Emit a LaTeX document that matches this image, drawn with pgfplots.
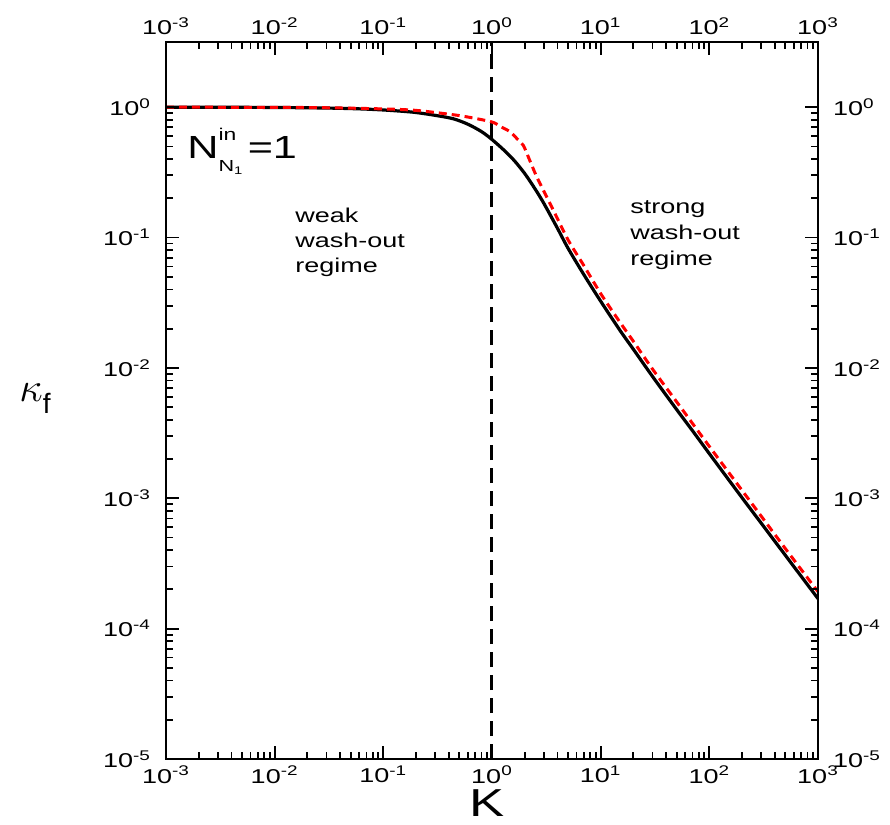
\documentclass[border=0pt]{standalone}
\usepackage{graphicx}
\usepackage{fontspec}
\setmainfont{Liberation Sans}[FakeStretch=1.35]
\newfontfamily\plainsans{Liberation Sans}
\usepackage{pgfplots}
\pgfplotsset{compat=1.18}
\usetikzlibrary{calc}

\pgfplotsset{
    width=326pt, height=358.5pt, scale only axis,
    xmin=1e-3, xmax=1e3, ymin=1e-5, ymax=3.1623,
    xtick={1e-3,1e-2,1e-1,1,1e1,1e2,1e3},
    ytick={1e-5,1e-4,1e-3,1e-2,1e-1,1},
    xticklabels={10\textsuperscript{-3},10\textsuperscript{-2},10\textsuperscript{-1},10\textsuperscript{0},10\textsuperscript{1},10\textsuperscript{2},10\textsuperscript{3}},
    yticklabels={10\textsuperscript{-5},10\textsuperscript{-4},10\textsuperscript{-3},10\textsuperscript{-2},10\textsuperscript{-1},10\textsuperscript{0}},
    axis line style={line width=1pt, black},
    major tick length=6.5pt, minor tick length=3.5pt,
    every tick/.style={black, line width=0.9pt},
    tick align=inside,
    tick label style={font=\fontsize{10}{12}\selectfont, black},
}

\begin{document}
\begin{tikzpicture}
\begin{loglogaxis}[name=ax,
  yticklabel style={xshift=-4pt},
  xlabel={K},
  ylabel={\fontsize{22}{26}\selectfont$\kappa$\raisebox{-6pt}{\plainsans\fontsize{14}{16}\selectfont f}},
  every axis x label/.style={at={(axis description cs:0.5,0)}, anchor=center, yshift=-22pt, xshift=-2.5pt, font=\fontsize{19.5}{22}\selectfont},
  every axis y label/.style={at={(axis description cs:0,0.5)}, anchor=center, xshift=-65.5pt, yshift=1pt},
]
\addplot[black, line width=1.5pt, dash pattern=on 7.5pt off 4pt] coordinates {(1,1e-5) (1,3.1623)};
\addplot[black, line width=1.6pt, smooth] coordinates {
(0.001,0.9995) (0.003,0.9985) (0.01,0.995) (0.03,0.985) (0.06,0.971) (0.1,0.952)
(0.15,0.930) (0.2,0.91) (0.3,0.866) (0.44,0.815) (0.6,0.74) (0.8,0.650) (1.0,0.565)
(1.3,0.465) (1.6,0.39) (2.0,0.31) (2.5,0.235) (3.0,0.183) (4.0,0.118) (5.0,0.083)
(7.0,0.052) (10,0.0325) (15,0.0195) (20,0.0139) (30,0.0086) (50,0.0048) (70,0.0033)
(100,0.0022) (200,0.00101) (316,0.000609) (500,0.000366) (1000,0.000170)
};
\addplot[red, line width=1.5pt, dash pattern=on 4pt off 2.5pt, smooth] coordinates {
(0.001,0.9997) (0.01,0.997) (0.03,0.99) (0.1,0.97) (0.2,0.945) (0.44,0.875)
(0.63,0.834) (1.0,0.77) (1.2,0.71) (1.47,0.647) (1.7,0.573) (1.94,0.51) (2.2,0.40)
(2.58,0.292) (3.0,0.227) (3.67,0.162) (5.03,0.0955) (7,0.061) (10,0.0372) (15,0.0225)
(20,0.0160) (30,0.0098) (50,0.0055) (100,0.00250) (200,0.00115) (500,0.000412)
(1000,0.000192)
};
\node[anchor=base west, font=\fontsize{16}{18}\selectfont, inner sep=0pt] at (axis cs:1.56e-3,0.406)
  {N\rlap{\raisebox{9pt}{\fontsize{8.5}{10}\selectfont in}}\raisebox{-6.7pt}{\fontsize{8}{9}\selectfont N\raisebox{-1.5pt}{\fontsize{5.5}{6}\selectfont 1}}\,=1};
\node[anchor=west, align=left, inner sep=0pt, font=\fontsize{10}{12.5}\selectfont] at (axis cs:0.0154,0.0927)
  {weak\\wash-out\\regime};
\node[anchor=west, align=left, inner sep=0pt, font=\fontsize{10}{13}\selectfont] at (axis cs:18.6,0.105)
  {strong\\wash-out\\regime};
\end{loglogaxis}
\begin{loglogaxis}[
  xticklabel pos=upper, yticklabel pos=right,
  yticklabel style={xshift=4pt},
]
\addplot[draw=none] coordinates {(1,1)};
\end{loglogaxis}
\pgfresetboundingbox
\path ($(ax.south west)+(-83pt,-33pt)$) rectangle ($(ax.north east)+(36pt,21pt)$);
\end{tikzpicture}
\end{document}
